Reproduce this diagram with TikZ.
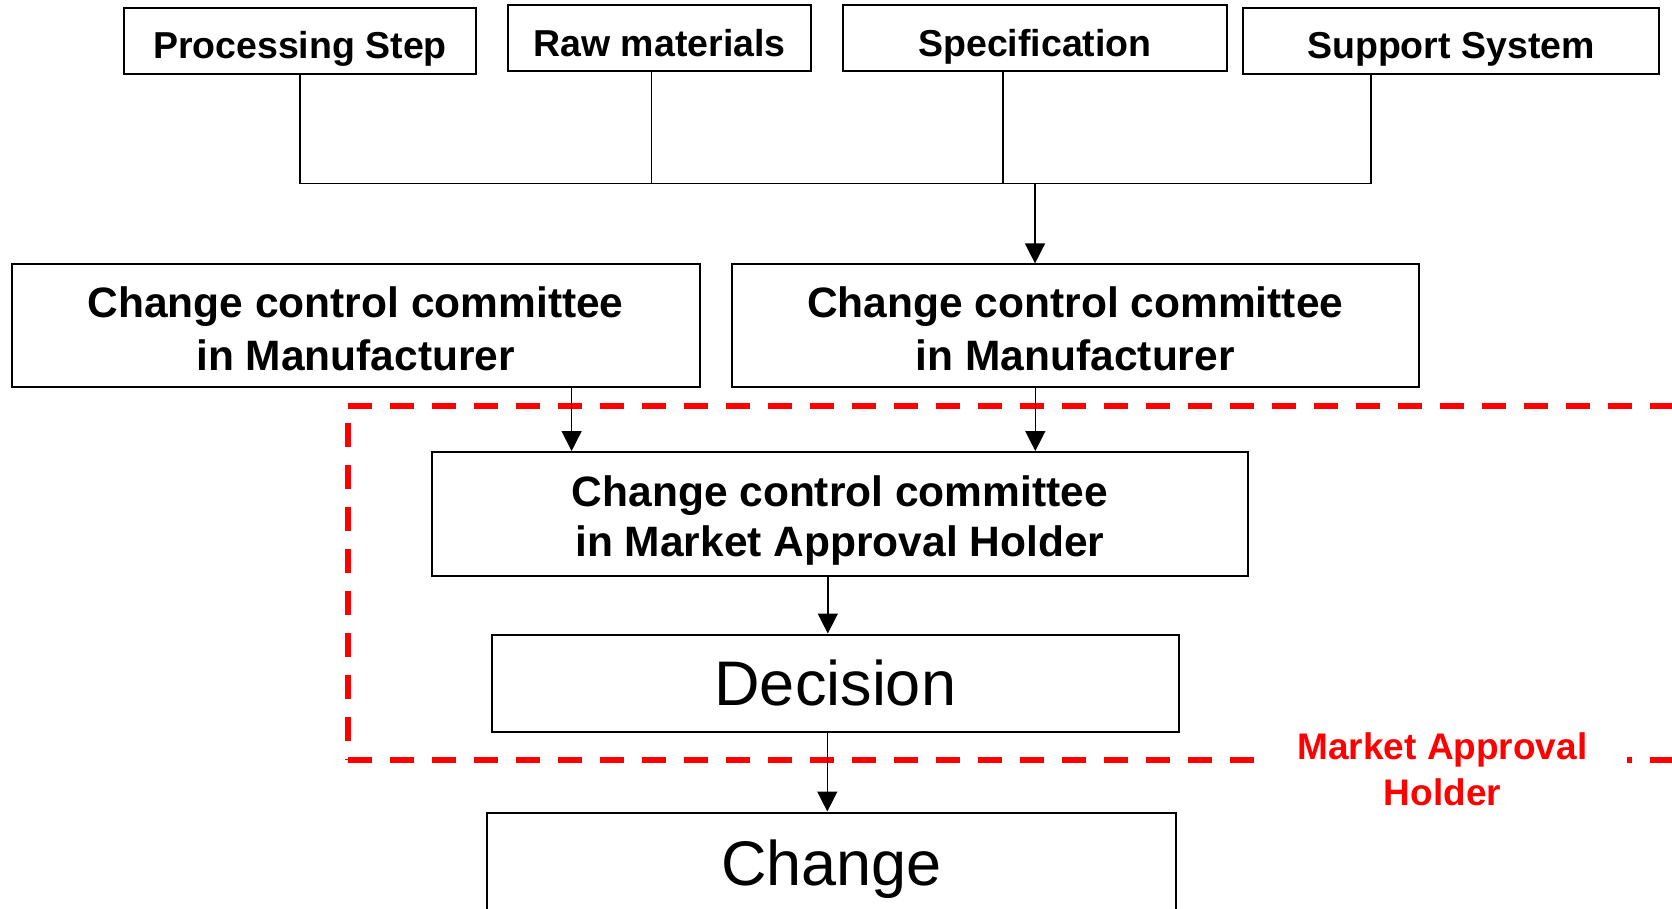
\documentclass[tikz,border=0pt]{standalone}
\usepackage{fontspec}
\setmainfont{Liberation Sans}
\usetikzlibrary{arrows.meta}
\begin{document}
\begin{tikzpicture}[x=1pt,y=-1pt,
  box/.style={draw=black, line width=2pt, rectangle, inner sep=0pt, align=center},
  topbox/.style={box, minimum height=66pt, font=\fontsize{37.5}{45}\selectfont\bfseries, text height=35.5pt, text depth=0pt},
  ccbox/.style={box, font=\fontsize{42.5}{52}\selectfont\bfseries},
  mahbox/.style={box, font=\fontsize{42.5}{50}\selectfont\bfseries},
  bigbox/.style={box, font=\fontsize{63}{75}\selectfont, text height=45pt, text depth=0pt},
  conn/.style={draw=black, line width=1.5pt},
  arr/.style={conn, -{Triangle[length=20pt,width=20pt]}},
  redline/.style={draw=red, line width=6pt, dash pattern=on 24pt off 18pt},
  redlabel/.style={fill=white, text=red, inner sep=0pt, minimum width=369pt, minimum height=20pt, align=center, font=\fontsize{37}{46}\selectfont\bfseries}
]
\useasboundingbox (0,0) rectangle (1672,908);
\clip (0,0) rectangle (1672,908);

% top boxes
\node[topbox, minimum width=352pt] (ps) at (300,40.5) {Processing Step};
\node[topbox, minimum width=303pt] (rm) at (659.5,38.4) {Raw materials};
\node[topbox, minimum width=384pt] (sp) at (1035,38.4) {Specification};
\node[topbox, minimum width=416pt] (ss) at (1451,40.5) {Support System};

% committee boxes
\node[ccbox, minimum width=688pt, minimum height=122.6pt] (ccl) at (355.6,325.7) {\rule{0pt}{37pt}Change control committee\\in Manufacturer};
\node[ccbox, minimum width=687.5pt, minimum height=122.6pt] (ccr) at (1075.3,325.7) {\rule{0pt}{37pt}Change control committee\\in Manufacturer};
\node[mahbox, minimum width=815.6pt, minimum height=124pt] (mah) at (839.8,514) {\rule{0pt}{43.5pt}Change control committee\\in Market Approval Holder};

% decision and change
\node[bigbox, minimum width=687.5pt, minimum height=97pt] (dec) at (835.3,683) {Decision};
\node[bigbox, minimum width=689pt, minimum height=101pt] (chg) at (831.5,863) {Change};

% red dashed region
\coordinate (rtl) at (347.6,406);
\coordinate (rbl) at (347.6,760);
\coordinate (rtr) at (1720,406);
\coordinate (rbr) at (1720,760);
\draw[redline] (rtl) -- (rtr);
\draw[redline] (rbl) -- (rbr);
\draw[redline, dash phase=25pt] (rtl) -- (rbl);
\node[redlabel] (lab) at (1442.5,769.5) {Market Approval\\Holder};

% bus lines
\coordinate (busL) at (300,183.4);
\coordinate (busR) at (1371,183.4);
\coordinate (busA) at (1035,183.4);
\draw[conn] (ps.south) -- (busL) -- (busR) -- (busR |- ss.south);
\draw[conn] ([xshift=-8pt]rm.south) -- ([xshift=-8pt]rm.south |- busL);
\draw[conn] ([xshift=-32pt]sp.south) -- ([xshift=-32pt]sp.south |- busL);
\draw[arr] (busA) -- (busA |- ccr.north);

% arrows
\draw[arr] ([xshift=216pt]ccl.south) -- ([xshift=216pt]ccl.south |- mah.north);
\draw[arr] ([xshift=-40pt]ccr.south) -- ([xshift=-40pt]ccr.south |- mah.north);
\draw[arr] ([xshift=-12pt]mah.south) -- ([xshift=-12pt]mah.south |- dec.north);
\draw[arr] ([xshift=-8pt]dec.south) -- ([xshift=-8pt]dec.south |- chg.north);
\end{tikzpicture}
\end{document}
